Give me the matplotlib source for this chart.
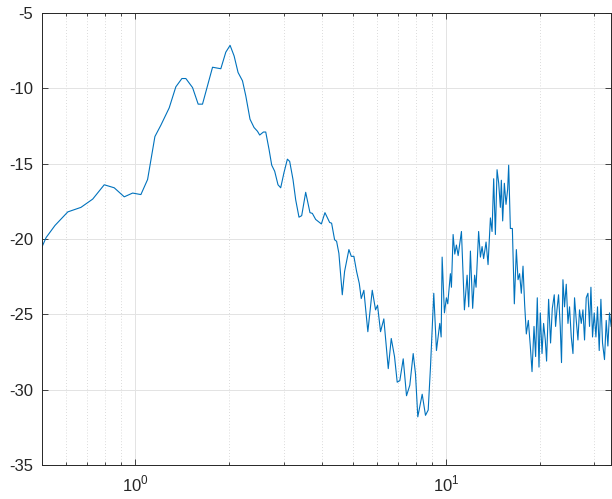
import numpy as np
import matplotlib
matplotlib.use("Agg")
import matplotlib.pyplot as plt
from matplotlib.ticker import FixedLocator, NullFormatter

plt.rcParams['font.family'] = ['Liberation Sans', 'DejaVu Sans']
plt.rcParams['mathtext.fontset'] = 'custom'
plt.rcParams['mathtext.rm'] = 'Liberation Sans'
plt.rcParams['axes.unicode_minus'] = False

# frequency (log axis) and level
freq = [0.502, 0.517, 0.552, 0.607, 0.669, 0.730, 0.795, 0.856, 0.922, 0.981,
        1.043, 1.096, 1.157, 1.209, 1.286, 1.351, 1.413, 1.455, 1.529, 1.594,
        1.646, 1.773, 1.885, 1.956, 2.019, 2.080, 2.142, 2.213, 2.268, 2.340,
        2.411, 2.473, 2.514, 2.584, 2.629, 2.694, 2.748, 2.809, 2.879, 2.937,
        3.009, 3.086, 3.139, 3.217, 3.282, 3.363, 3.431, 3.534, 3.648, 3.713,
        3.805, 3.969, 4.076, 4.220, 4.282, 4.378, 4.443, 4.519, 4.634, 4.714,
        4.867, 4.954, 5.050, 5.152, 5.256, 5.333, 5.437, 5.600, 5.786, 5.929,
        6.017, 6.152, 6.304, 6.514, 6.660, 6.823, 6.960, 7.096, 7.277, 7.457,
        7.641, 7.835, 7.970, 8.107, 8.375, 8.582, 8.755, 8.905,
        9.125, 9.308, 9.538, 9.637, 9.708, 9.874, 10.02, 10.12, 10.32, 10.40,
        10.53, 10.66, 10.79, 10.93, 11.20, 11.45, 11.68, 11.82, 11.97, 12.17,
        12.35, 12.48, 12.72, 12.89, 13.05, 13.20, 13.44, 13.64, 13.88, 14.05,
        14.22, 14.40, 14.58, 14.76, 14.94, 15.05, 15.20, 15.39, 15.58, 15.77,
        15.89, 16.09, 16.33, 16.57, 16.82, 17.03, 17.23, 17.45, 17.67, 17.88,
        18.11, 18.38, 18.65, 18.89, 19.17, 19.40, 19.64, 19.89, 20.08, 20.34,
        20.58, 20.84, 21.04, 21.36, 21.67, 21.95, 22.27, 22.49, 22.72, 22.99,
        23.28, 23.50, 23.75, 24.03, 24.34, 24.65, 24.94, 25.26, 25.58, 25.88,
        26.21, 26.54, 26.85, 27.20, 27.54, 27.87, 28.22, 28.58, 28.92, 29.22,
        29.57, 29.94, 30.32, 30.68, 31.07, 31.46, 31.84, 32.31, 32.72, 33.13,
        33.53, 33.95]
level = [-20.5, -19.9, -19.1, -18.2, -17.9, -17.35, -16.4, -16.6, -17.2, -16.95,
         -17.05, -16.05, -13.2, -12.45, -11.3, -9.9, -9.35, -9.35, -9.95, -11.05,
         -11.05, -8.6, -8.7, -7.6, -7.15, -7.85, -8.95, -9.5, -10.5, -12.05,
         -12.6, -12.85, -13.1, -12.9, -12.9, -14.05, -15.1, -15.5, -16.4, -16.6,
         -15.6, -14.7, -14.85, -16.05, -17.4, -18.55, -18.45, -16.9, -18.25, -18.3,
         -18.7, -19.0, -18.25, -18.9, -18.95, -20.05, -20.15, -20.95, -23.7, -22.15,
         -20.7, -21.15, -21.15, -22.15, -22.95, -23.95, -23.4, -26.15, -23.4, -24.7,
         -24.4, -26.15, -25.3, -28.6, -26.6, -27.8, -29.5, -29.4, -27.95, -30.4,
         -29.7, -27.6, -28.95, -31.8, -30.3, -31.7, -31.35, -28.5,
         -23.6, -27.4, -25.6, -26.5, -21.2, -24.9, -23.9, -24.3, -22.3, -23.2,
         -19.7, -21.0, -20.4, -21.1, -19.5, -24.7, -22.4, -24.5, -20.8, -24.6,
         -22.4, -23.2, -19.5, -21.2, -20.5, -21.3, -20.2, -21.7, -18.6, -19.5,
         -16.0, -19.7, -15.4, -16.3, -17.9, -16.1, -18.8, -16.3, -17.7, -16.7,
         -15.1, -19.3, -19.3, -24.3, -20.7, -22.7, -22.3, -23.6, -21.8, -24.3,
         -26.3, -25.4, -27.1, -28.8, -25.8, -27.8, -23.9, -28.5, -24.9, -27.6,
         -25.6, -26.7, -28.1, -24.0, -26.9, -24.6, -23.7, -25.8, -24.7, -23.7,
         -25.8, -28.2, -22.7, -24.5, -23.0, -25.6, -24.5, -26.5, -27.6, -23.9,
         -25.4, -26.7, -24.7, -25.6, -24.7, -26.7, -23.9, -23.6, -25.8, -23.2,
         -26.5, -24.9, -26.5, -24.5, -27.4, -24.0, -26.9, -28.0, -25.4, -27.1,
         -24.9, -25.8]

ytick_vals = [-35, -30, -25, -20, -15, -10, -5]
xmajor = [1, 10]
xminor = [0.6, 0.7, 0.8, 0.9, 2, 3, 4, 5, 6, 7, 8, 9, 20, 30]

fig = plt.figure(figsize=(6.12, 4.99), dpi=100)
ax = fig.add_axes([0.068, 0.068, 0.931, 0.906])

ax.plot(freq, level, color='#0072BD', lw=0.8)

ax.set_xscale('log')
ax.set_xlim(0.5, 34)
ax.set_ylim(-35, -5)
ax.set_yticks(ytick_vals)
ax.set_yticklabels([str(v) for v in ytick_vals])
ax.xaxis.set_major_locator(FixedLocator(xmajor))
ax.set_xticklabels([r'$10^{0}$', r'$10^{1}$'])
ax.xaxis.set_minor_locator(FixedLocator(xminor))
ax.xaxis.set_minor_formatter(NullFormatter())

dark = '#262626'
ax.tick_params(which='both', direction='in', top=True, right=True,
               colors=dark, width=0.6, labelsize=12)
ax.tick_params(which='major', length=4)
ax.tick_params(which='minor', length=2.5)
ax.tick_params(axis='y', pad=6)
ax.tick_params(axis='x', pad=6)
for s in ax.spines.values():
    s.set_color(dark)
    s.set_linewidth(0.7)

ax.grid(True, which='major', color='#e3e3e3', lw=0.7, ls='-')
ax.grid(True, which='minor', axis='x', color='#cfcfcf', lw=0.6, ls=(0, (1, 2.5)))
ax.set_axisbelow(True)

fig.savefig('out.png', dpi=100)
